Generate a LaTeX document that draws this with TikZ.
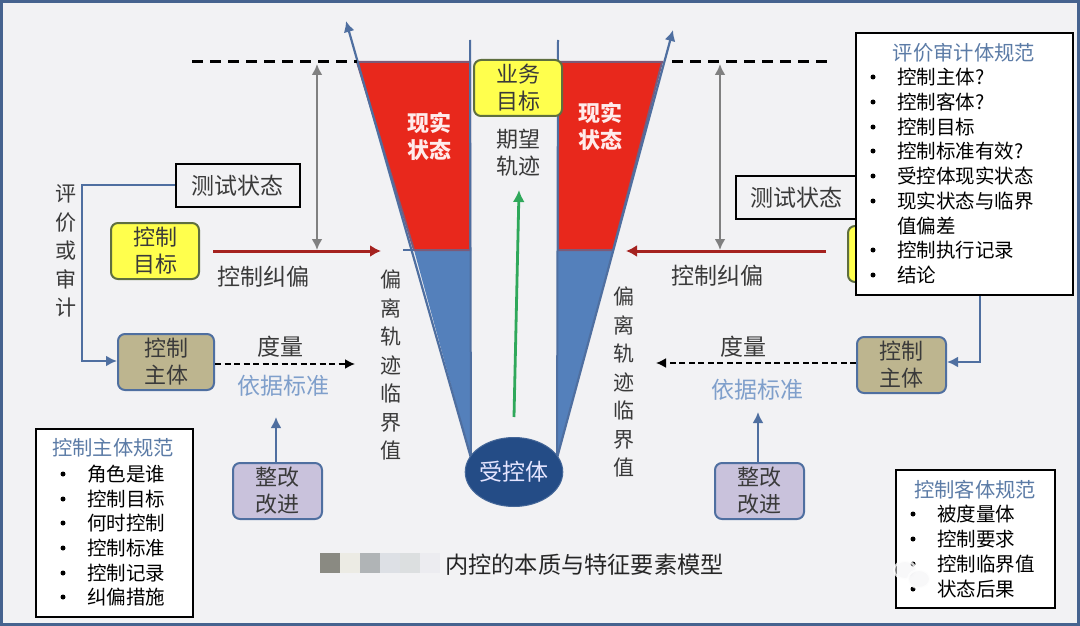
\documentclass[tikz,border=0pt]{standalone}
\usepackage{fontspec}
\setmainfont{Noto Sans CJK SC}
\usetikzlibrary{arrows.meta,shapes.geometric}
\definecolor{frameblue}{HTML}{46638F}
\definecolor{bgpage}{HTML}{F2F2F4}
\definecolor{funnelred}{HTML}{E8281C}
\definecolor{funnelblue}{HTML}{5480BB}
\definecolor{edgeblue}{HTML}{4F6FA0}
\definecolor{navy}{HTML}{244C86}
\definecolor{goalyellow}{HTML}{FFFF4D}
\definecolor{goaledge}{HTML}{5F6F3F}
\definecolor{subjtan}{HTML}{BDB58F}
\definecolor{fixlilac}{HTML}{C9C2DC}
\definecolor{darkred}{HTML}{A5221F}
\definecolor{arrowgreen}{HTML}{2FA85A}
\definecolor{headblue}{HTML}{5B7BA6}
\definecolor{softblue}{HTML}{7F9FCB}
\definecolor{txt}{HTML}{3A3A3A}
\tikzset{
  x=1pt,y=-1pt,
  lbl/.style={inner sep=0pt,text=txt,font=\fontsize{23}{26}\selectfont,align=center},
  vlbl/.style={inner sep=0pt,text=txt,font=\fontsize{21}{28.5}\selectfont,align=center,text width=24pt},
  flowbox/.style={draw,rounded corners=7pt,line width=2pt,inner sep=0pt,text=txt,align=center,font=\fontsize{22}{27}\selectfont,anchor=north west},
  testbox/.style={draw=black,fill=bgpage,line width=1.8pt,inner sep=0pt,text=txt,font=\fontsize{23}{26}\selectfont,anchor=north west},
  specbox/.style={draw=black,fill=white,line width=1.8pt,inner sep=0pt,anchor=north west},
  spechead/.style={inner sep=0pt,text=headblue,font=\fontsize{20.3}{22}\selectfont},
  specitem/.style={inner sep=0pt,text=black,anchor=west,font=\fontsize{19.5}{22}\selectfont},
  specdot/.style={circle,fill=black,inner sep=0pt,minimum size=5pt},
  blueline/.style={draw=edgeblue,line width=2.2pt,-{Latex[length=11pt,width=11pt]}},
  corr/.style={draw=darkred,line width=3pt,-{Latex[length=11pt,width=12pt]}},
  gauge/.style={draw=gray,line width=2.6pt,{Latex[length=11pt,width=11pt]}-{Latex[length=11pt,width=11pt]}},
  measure/.style={draw=black,line width=1.8pt,dash pattern=on 6pt off 3.5pt,-{Latex[length=10pt,width=10pt]}},
  limit/.style={draw=black,line width=3pt,dash pattern=on 11pt off 7pt},
}
\begin{document}
\begin{tikzpicture}
\useasboundingbox (0,0) rectangle (1080,626);
\fill[frameblue] (0,0) rectangle (1080,626);
\fill[bgpage] (3,3) rectangle (1077,623);

% funnel
\coordinate (ltl) at (357,62); \coordinate (ltr) at (470,62);
\coordinate (lml) at (414,250); \coordinate (lmr) at (470,250);
\coordinate (lbm) at (471,458);
\coordinate (rtl) at (558,62); \coordinate (rtr) at (662,62);
\coordinate (rml) at (558,250); \coordinate (rmr) at (613,250);
\coordinate (rbm) at (557,458);
\fill[funnelblue] (lml)--(lmr)--(lbm)--cycle;
\fill[funnelblue] (rml)--(rmr)--(rbm)--cycle;
\filldraw[fill=funnelred,draw=edgeblue!70!funnelred,line width=2pt] (ltl)--(ltr)--(lmr)--(lml)--cycle;
\filldraw[fill=funnelred,draw=edgeblue!70!funnelred,line width=2pt] (rtl)--(rtr)--(rmr)--(rml)--cycle;
\coordinate (ltip) at (346,21); \coordinate (rtip) at (673,30);
\draw[blueline] (lbm)--(ltip);
\draw[blueline] (rbm)--(rtip);
\coordinate (lvt) at (470,40); \coordinate (rvt) at (558,40);
\draw[edgeblue,line width=2pt] (lvt)--(lbm);
\draw[edgeblue,line width=2pt] (rvt)--(rbm);
\coordinate (ltick) at (403,250);
\draw[edgeblue,line width=1.5pt] (ltick)--(lml);

% dashed limit lines
\coordinate (ld) at (192,62); \coordinate (rd) at (830,62); \coordinate (rd0) at (672,62);
\draw[limit] (ld)--(ltl);
\draw[limit] (rd0)--(rd);

% gauges
\coordinate (g1a) at (317,64); \coordinate (g1b) at (317,250);
\coordinate (g2a) at (720,64); \coordinate (g2b) at (720,250);
\draw[gauge] (g1a)--(g1b);
\draw[gauge] (g2a)--(g2b);

% corrective arrows
\coordinate (c1a) at (213,251); \coordinate (c1b) at (381,251);
\coordinate (c2a) at (826,251); \coordinate (c2b) at (626,251);
\draw[corr] (c1a)--(c1b);
\draw[corr] (c2a)--(c2b);

% centre
\coordinate (ga) at (514,417); \coordinate (gb) at (519,190);
\draw[arrowgreen,line width=2.8pt,-{Latex[length=12pt,width=12pt]}] (ga)--(gb);
\node[flowbox,draw=goaledge,fill=goalyellow,minimum width=88pt,minimum height=56pt] (biz) at (473,59) {业务\\目标};
\node[ellipse,fill=navy,draw=navy!85!white,line width=1pt,minimum width=91pt,minimum height=69pt,inner sep=0pt,text=white!90!blue,font=\fontsize{23}{25}\selectfont] (ctl) at (514,472) {受控体};
\node[lbl,text=white!92!red,font=\bfseries\fontsize{22}{27}\selectfont] (real1) at (429,136) {现实\\状态};
\node[lbl,text=white!92!red,font=\bfseries\fontsize{22}{27}\selectfont] (real2) at (600,126) {现实\\状态};
\node[lbl,font=\fontsize{22}{27}\selectfont] (traj) at (518,153) {期望\\轨迹};

% left side
\node[testbox,minimum width=124pt,minimum height=43pt] (test1) at (175,163) {测试状态};
\node[flowbox,draw=goaledge,fill=goalyellow,minimum width=88pt,minimum height=56pt] (goal1) at (110,222) {控制\\目标};
\node[flowbox,draw=edgeblue,fill=subjtan,minimum width=96pt,minimum height=56pt] (subj1) at (117,333) {控制\\主体};
\node[flowbox,draw=edgeblue,fill=fixlilac,minimum width=89pt,minimum height=56pt] (fix1) at (232,462) {整改\\改进};
\coordinate (b1) at (82,185); \coordinate (b2) at (82,361);
\draw[blueline] (test1.west|-b1)--(b1)--(b2)--(subj1.west|-b2);
\node[vlbl] (eval) at (66,251) {评\\价\\或\\审\\计};
\node[lbl] (corrl1) at (263,277) {控制纠偏};
\node[lbl] (meas1) at (280,347) {度量};
\node[lbl,text=softblue] (std1) at (283,386) {依据标准};
\coordinate (m1b) at (355,364);
\draw[measure] (subj1.east|-m1b)--(m1b);
\coordinate (f1t) at (276,417);
\draw[blueline] (fix1.north-|f1t)--(f1t);
\node[vlbl] (dev1) at (391,365) {偏\\离\\轨\\迹\\临\\界\\值};

% right side
\node[testbox,minimum width=121pt,minimum height=43pt] (test2) at (735,175) {测试状态};
\node[flowbox,draw=goaledge,fill=goalyellow,minimum width=88pt,minimum height=56pt] (goal2) at (847,225) {};
\node[flowbox,draw=edgeblue,fill=subjtan,minimum width=89pt,minimum height=56pt] (subj2) at (856,336) {控制\\主体};
\node[flowbox,draw=edgeblue,fill=fixlilac,minimum width=89pt,minimum height=56pt] (fix2) at (714,462) {整改\\改进};
\node[lbl] (corrl2) at (717,276) {控制纠偏};
\node[lbl] (meas2) at (743,347) {度量};
\node[lbl,text=softblue] (std2) at (757,390) {依据标准};
\coordinate (m2b) at (656,363);
\draw[measure] (subj2.west|-m2b)--(m2b);
\coordinate (f2t) at (758,412);
\draw[blueline] (fix2.north-|f2t)--(f2t);
\node[vlbl] (dev2) at (624,382) {偏\\离\\轨\\迹\\临\\界\\值};

% audit spec
\node[specbox,minimum width=217pt,minimum height=262pt] (audit) at (855,32) {};
\node[spechead] at (964,53) {评价审计体规范};
\foreach \yy/\tt in {77/控制主体?,102/控制客体?,127/控制目标,151/控制标准有效?,176/受控体现实状态,201/现实状态与临界,250/控制执行记录,275/结论}{
  \node[specdot] at (873,\yy) {};
  \node[specitem] at (897,\yy) {\tt};
}
\node[specitem] at (897,226) {值偏差};
\coordinate (a1) at (980,362);
\draw[blueline] (audit.south-|a1)--(a1)--(subj2.east|-a1);

% subject spec
\node[specbox,minimum width=157pt,minimum height=188pt] (spec1) at (35,428) {};
\node[spechead] at (113,448) {控制主体规范};
\foreach \yy/\tt in {474/角色是谁,499/控制目标,523/何时控制,548/控制标准,573/控制记录,597/纠偏措施}{
  \node[specdot] at (63,\yy) {};
  \node[specitem] at (87,\yy) {\tt};
}

% object spec
\node[specbox,minimum width=159pt,minimum height=138pt] (spec2) at (895,469) {};
\node[spechead] at (975,490) {控制客体规范};
\foreach \yy/\tt in {514/被度量体,539/控制要求,564/控制临界值,589/状态后果}{
  \node[specdot] at (913,\yy) {};
  \node[specitem] at (937,\yy) {\tt};
}

% faint watermark logo
\begin{scope}[opacity=.75]
  \draw[white,line width=2pt,fill=bgpage,fill opacity=.5] (905,570) ellipse (11pt and 9pt);
  \draw[white,line width=2pt,fill=bgpage,fill opacity=.5] (919,579) ellipse (11pt and 9pt);
\end{scope}

% title
\foreach \xa/\col in {320/8A8A82,340/ECEBE4,360/B0B4B6,380/DDE0E5,400/DCDFE0,420/ECECF0}{
  \definecolor{swatch}{HTML}{\col}
  \fill[swatch] (\xa,553) rectangle ++(20,20);
}
\node[inner sep=0pt,text=black!85,font=\fontsize{23.2}{26}\selectfont,anchor=west] (title) at (445,565) {内控的本质与特征要素模型};
\end{tikzpicture}
\end{document}
